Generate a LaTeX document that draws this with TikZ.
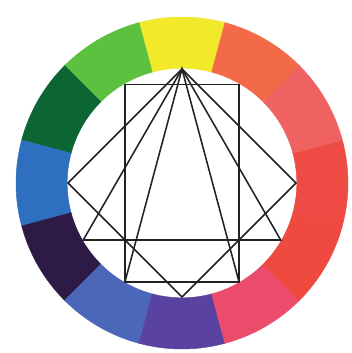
\documentclass[tikz,border=0pt]{standalone}
\usepackage{tikz}
\usetikzlibrary{calc}
\definecolor{wheelyellow}{HTML}{F1E92A}
\definecolor{wheellime}{HTML}{5CC13E}
\definecolor{wheelforest}{HTML}{0C6634}
\definecolor{wheelblue}{HTML}{2F6FBF}
\definecolor{wheelplum}{HTML}{2D1B45}
\definecolor{wheelperiwinkle}{HTML}{4A67B9}
\definecolor{wheelviolet}{HTML}{5A43A0}
\definecolor{wheelrose}{HTML}{EC4C6C}
\definecolor{wheelscarlet}{HTML}{EE4A40}
\definecolor{wheelred}{HTML}{EF4B45}
\definecolor{wheelsalmon}{HTML}{F06262}
\definecolor{wheelorange}{HTML}{F26A48}
\definecolor{chordblack}{HTML}{222222}
\tikzset{
  chord/.style={draw=chordblack, line width=1.1pt, line join=miter},
  ringpart/.style={line width=0.3pt}
}
\newcommand{\rout}{4.15}
\newcommand{\rin}{2.87}
\newcommand{\rfig}{2.85}

\begin{document}
\begin{tikzpicture}

% ── Canvas (352 x 353 px, wheel centre at the origin) ───────────────────────
\fill[white] (-4.55,-4.25) rectangle (4.25,4.575);
\useasboundingbox (-4.55,-4.25) rectangle (4.25,4.575);

% ── Twelve ring sectors, 30 degrees each, yellow centred at the top ─────────
\foreach \a/\col [evaluate=\a as \b using \a+30] in {
    75/wheelyellow, 105/wheellime, 135/wheelforest, 165/wheelblue,
    195/wheelplum, 225/wheelperiwinkle, 255/wheelviolet, 285/wheelrose,
    315/wheelscarlet, 345/wheelred, 15/wheelsalmon, 45/wheelorange} {
  \fill[\col, draw=\col, ringpart] (\a:\rout)
    arc[start angle=\a, end angle=\b, radius=\rout]
    -- (\b:\rin) arc[start angle=\b, end angle=\a, radius=\rin] -- cycle;
}

% ── Points on the inner circle, every 30 degrees (p0 = east) ────────────────
\foreach \i in {0,...,11} {
  \coordinate (p\i) at (\i*30:\rfig);
}

% ── Square (tetrad) ─────────────────────────────────────────────────────────
\draw[chord] (p3) -- (p6) -- (p9) -- (p0) -- cycle;

% ── Equilateral triangle (triad) ────────────────────────────────────────────
\draw[chord] (p3) -- (p7) -- (p11) -- cycle;

% ── Rectangle ───────────────────────────────────────────────────────────────
\draw[chord] (p2) -- (p4) -- (p8) -- (p10) -- cycle;

% ── Narrow triangle on the rectangle's base ─────────────────────────────────
\draw[chord] (p8) -- (p3) -- (p10);

\end{tikzpicture}
\end{document}
